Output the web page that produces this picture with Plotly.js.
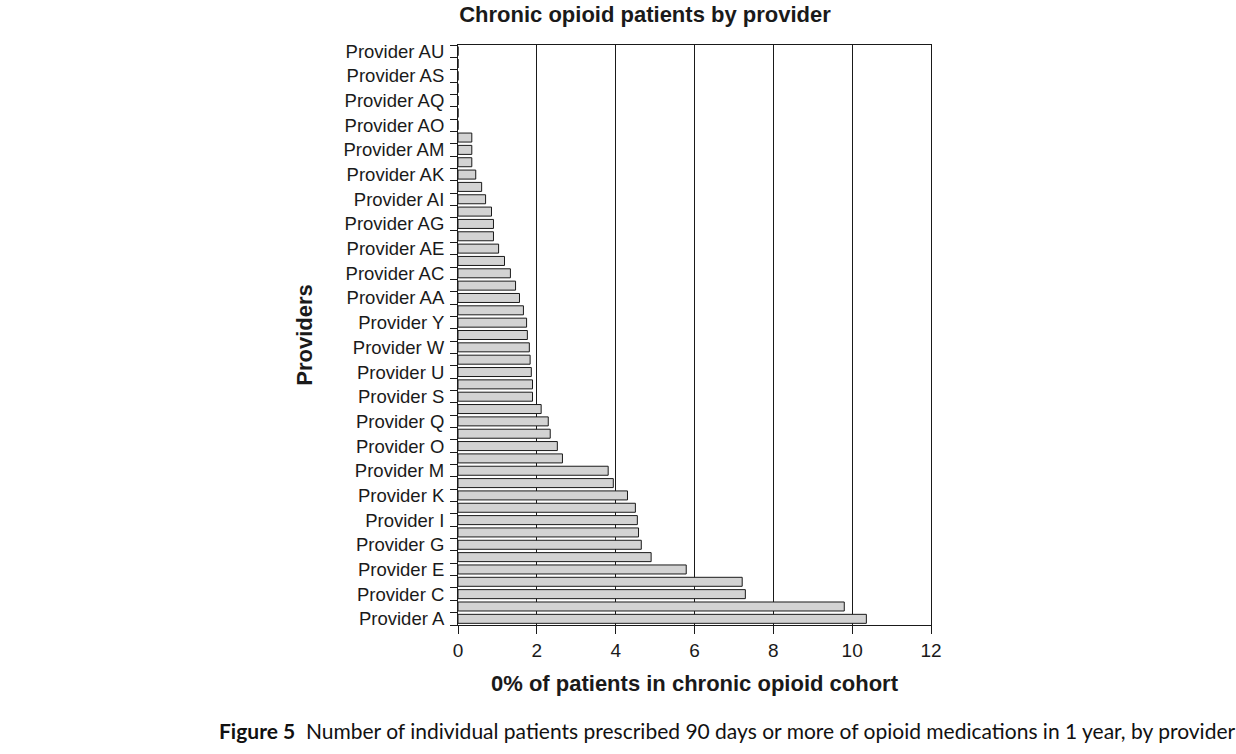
<!DOCTYPE html>
<html>
<head>
<meta charset="utf-8">
<script src="https://cdn.plot.ly/plotly-3.0.1.min.js"></script>
<style>html,body{margin:0;padding:0;background:#fff;}#chart{width:1236px;height:754px;}</style>
</head>
<body>
<div id="chart"></div>
<script>
const providers = ["Provider A","Provider B","Provider C","Provider D","Provider E","Provider F","Provider G","Provider H","Provider I","Provider J","Provider K","Provider L","Provider M","Provider N","Provider O","Provider P","Provider Q","Provider R","Provider S","Provider T","Provider U","Provider V","Provider W","Provider X","Provider Y","Provider Z","Provider AA","Provider AB","Provider AC","Provider AD","Provider AE","Provider AF","Provider AG","Provider AH","Provider AI","Provider AJ","Provider AK","Provider AL","Provider AM","Provider AN","Provider AO","Provider AP","Provider AQ","Provider AR","Provider AS","Provider AT","Provider AU"];
const percentValues = [10.36,9.80,7.29,7.21,5.79,4.90,4.65,4.58,4.55,4.50,4.30,3.94,3.81,2.65,2.52,2.34,2.29,2.11,1.89,1.89,1.86,1.83,1.81,1.76,1.74,1.66,1.56,1.46,1.33,1.18,1.03,0.90,0.90,0.85,0.70,0.60,0.45,0.35,0.35,0.35,0,0,0,0,0,0,0];
const tickLabels = ["Provider A","","Provider C","","Provider E","","Provider G","","Provider I","","Provider K","","Provider M","","Provider O","","Provider Q","","Provider S","","Provider U","","Provider W","","Provider Y","","Provider AA","","Provider AC","","Provider AE","","Provider AG","","Provider AI","","Provider AK","","Provider AM","","Provider AO","","Provider AQ","","Provider AS","","Provider AU"];
const xTicks = [0,2,4,6,8,10,12];

const FONT = '"Liberation Sans", Arial, Helvetica, sans-serif';
const INK = '#1a1a1a';

const trace = {
  type: 'bar',
  orientation: 'h',
  x: percentValues,
  y: providers,
  marker: {color: '#d3d3d3', line: {color: '#1a1a1a', width: 1}},
  hoverinfo: 'x+y'
};

const layout = {
  width: 1236, height: 754,
  margin: {l: 458, r: 305, t: 45, b: 129, pad: 0},
  paper_bgcolor: '#fff', plot_bgcolor: '#fff',
  font: {family: FONT, color: INK, size: 17},
  showlegend: false,
  bargap: 0.27,
  title: {
    text: '<b>Chronic opioid patients by provider</b>',
    font: {family: FONT, size: 22, color: INK},
    x: 645/1236, xanchor: 'center', xref: 'container',
    y: 1 - 14/754, yanchor: 'middle', yref: 'container'
  },
  xaxis: {
    range: [0, 12], tickmode: 'array', tickvals: xTicks,
    ticks: 'outside', ticklen: 8, tickcolor: INK, tickwidth: 1,
    showgrid: true, gridcolor: INK, gridwidth: 1,
    showline: true, linecolor: INK, linewidth: 1, mirror: true,
    zeroline: false,
    tickfont: {family: FONT, size: 19, color: INK},
    title: {text: '<b>0% of patients in chronic opioid cohort</b>', font: {family: FONT, size: 22, color: INK}, standoff: 15},
    fixedrange: true
  },
  yaxis: {
    type: 'category', categoryorder: 'array', categoryarray: providers,
    tickmode: 'array', tickvals: providers, ticktext: tickLabels,
    tickson: 'boundaries',
    ticks: 'outside', ticklen: 7, tickcolor: INK, tickwidth: 1,
    ticklabelstandoff: 9,
    showgrid: false,
    showline: true, linecolor: INK, linewidth: 1, mirror: true,
    zeroline: false,
    tickfont: {family: FONT, size: 18.5, color: INK},
    title: {text: '<b>Providers</b>', font: {family: FONT, size: 22, color: INK}, standoff: 24},
    fixedrange: true
  },
  annotations: [{
    xref: 'paper', yref: 'paper',
    x: (727 - 458)/473, y: 0, xanchor: 'center', yanchor: 'middle',
    yshift: -(730 - 625),
    showarrow: false, align: 'left',
    text: '<b>Figure 5</b>  Number of individual patients prescribed 90 days or more of opioid medications in 1 year, by provider',
    font: {family: 'Lato, "Open Sans", sans-serif', size: 21, color: '#111'}
  }]
};

Plotly.newPlot('chart', [trace], layout, {displayModeBar: false, staticPlot: true});
</script>
</body>
</html>
